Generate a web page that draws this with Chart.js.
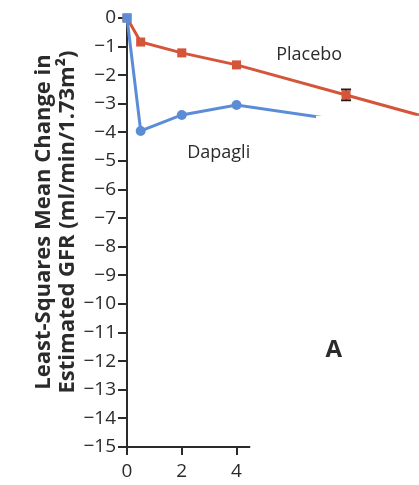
<!DOCTYPE html>
<html>
<head>
<meta charset="utf-8">
<title>eGFR change</title>
<script src="https://cdn.jsdelivr.net/npm/chart.js"></script>
<style>
  html, body { margin: 0; padding: 0; background: #fff; }
  #wrap { width: 419px; height: 485px; }
</style>
</head>
<body>
<div id="wrap"><canvas id="chart" width="419" height="485"></canvas></div>
<script>
const months = [0, 0.5, 2, 4, 8, 12];
const placebo = [0, -0.84, -1.22, -1.64, -2.69, -3.75];
const placeboErr = [0, 0.05, 0.06, 0.07, 0.19, 0.2];
const dapagli = [0, -3.95, -3.39, -3.04, -3.6, -3.9];
const xTicks = [0, 2, 4];
const yTicks = [0, -1, -2, -3, -4, -5, -6, -7, -8, -9, -10, -11, -12, -13, -14, -15];
const yTitle = ['Least-Squares Mean Change in', 'Estimated GFR (ml/min/1.73m\u00b2)'];

const FONT = "'Open Sans', 'Noto Sans', sans-serif";
const RED = '#d4553a';
const BLUE = '#5b8dd6';
const INK = '#2b2b2b';

const toPts = ys => months.map((m, i) => ({ x: m, y: ys[i] }));

// axis lines, error bar, labels, y title and the white cut-out on the right
const extras = {
  id: 'extras',
  beforeDatasetsDraw(chart) {
    const { ctx, scales: { x, y } } = chart;
    ctx.save();
    ctx.strokeStyle = INK;
    ctx.lineWidth = 2;
    ctx.beginPath();
    ctx.moveTo(x.getPixelForValue(0), y.getPixelForValue(0));
    ctx.lineTo(x.getPixelForValue(0), y.getPixelForValue(-15));
    ctx.moveTo(x.getPixelForValue(-0.3), y.getPixelForValue(-15));
    ctx.lineTo(x.getPixelForValue(4.5), y.getPixelForValue(-15));
    ctx.stroke();

    // error bar at 8 months (marker is drawn over it)
    const i = 4;
    const px = x.getPixelForValue(months[i]);
    const hi = y.getPixelForValue(placebo[i] + placeboErr[i]);
    const lo = y.getPixelForValue(placebo[i] - placeboErr[i]);
    ctx.strokeStyle = '#2a1a1a';
    ctx.lineWidth = 2;
    ctx.beginPath();
    ctx.moveTo(px, hi); ctx.lineTo(px, lo);
    ctx.moveTo(px - 5, hi); ctx.lineTo(px + 5, hi);
    ctx.moveTo(px - 5, lo); ctx.lineTo(px + 5, lo);
    ctx.stroke();

    // y title
    ctx.fillStyle = INK;
    ctx.font = 'bold 22px ' + FONT;
    ctx.textAlign = 'center';
    ctx.textBaseline = 'alphabetic';
    ctx.translate(0, 222);
    ctx.rotate(-Math.PI / 2);
    ctx.fillText(yTitle[0], 0, 50);
    ctx.fillText(yTitle[1], 0, 74);
    ctx.restore();
  },
  afterDatasetsDraw(chart) {
    const { ctx, scales: { x, y } } = chart;
    ctx.save();
    // white cut-out
    ctx.fillStyle = '#fff';
    const cx = x.getPixelForValue(6.9);
    const cy = y.getPixelForValue(-3.42);
    ctx.fillRect(cx, cy, chart.width - cx, chart.height - cy);
    // labels
    ctx.fillStyle = INK;
    ctx.textBaseline = 'middle';
    ctx.font = '18px ' + FONT;
    ctx.fillText('Placebo', x.getPixelForValue(5.45), y.getPixelForValue(-1.3));
    ctx.fillText('Dapagli', x.getPixelForValue(2.2), y.getPixelForValue(-4.72));
    ctx.font = 'bold 24px ' + FONT;
    ctx.fillText('A', x.getPixelForValue(7.25), y.getPixelForValue(-11.6));
    ctx.restore();
  }
};

new Chart(document.getElementById('chart').getContext('2d'), {
  type: 'line',
  data: {
    datasets: [
      {
        label: 'Placebo',
        data: toPts(placebo),
        borderColor: RED,
        backgroundColor: RED,
        borderWidth: 3,
        pointStyle: 'rect',
        pointRadius: 6.4,
        pointBorderWidth: 0,
        order: 2
      },
      {
        label: 'Dapagli',
        data: toPts(dapagli),
        borderColor: BLUE,
        backgroundColor: BLUE,
        borderWidth: 3,
        pointStyle: months.map((m, i) => i === 0 ? 'rect' : 'circle'),
        pointRadius: months.map((m, i) => i === 0 ? 6.4 : 5),
        pointBorderWidth: 0,
        order: 1
      }
    ]
  },
  options: {
    responsive: false,
    animation: false,
    clip: false,
    layout: { padding: { top: 18, right: 0, left: 0, bottom: 0 } },
    plugins: { legend: { display: false }, tooltip: { enabled: false } },
    scales: {
      x: {
        type: 'linear',
        min: 0,
        max: 10.43,
        afterBuildTicks: s => { s.ticks = xTicks.map(v => ({ value: v })); },
        afterFit: s => { s.height = 38; },
        border: { display: false },
        grid: { drawOnChartArea: false, tickLength: 8, color: INK, lineWidth: 2 },
        ticks: { color: INK, font: { family: FONT, size: 19 }, padding: 5, maxRotation: 0 }
      },
      y: {
        min: -15,
        max: 0,
        afterBuildTicks: s => { s.ticks = yTicks.map(v => ({ value: v })); },
        afterFit: s => { s.width = 127; },
        border: { display: false },
        grid: { drawOnChartArea: false, tickLength: 9, color: INK, lineWidth: 2 },
        ticks: {
          color: INK,
          font: { family: FONT, size: 19 },
          padding: 2,
          callback: v => v < 0 ? '\u2212' + Math.abs(v) : String(v)
        }
      }
    }
  },
  plugins: [extras]
});
</script>
</body>
</html>
